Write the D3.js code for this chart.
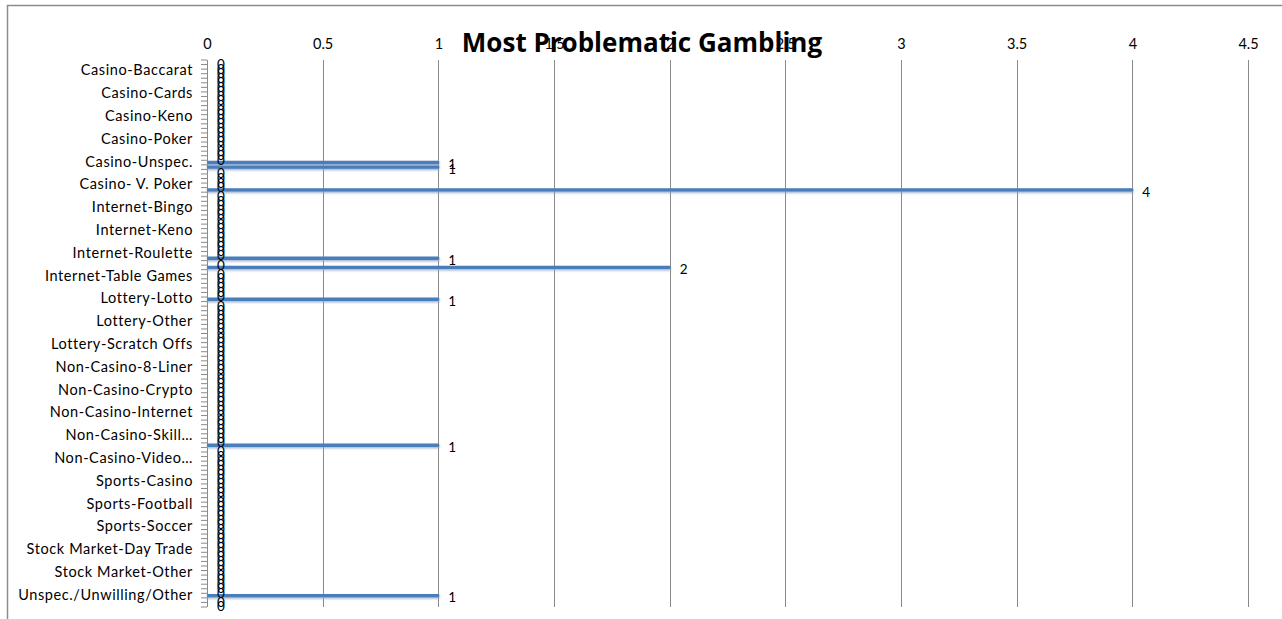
<!DOCTYPE html>
<html>
<head>
<meta charset="utf-8">
<script src="https://cdn.jsdelivr.net/npm/d3@7"></script>
<style>
  body { margin: 0; background: #fff; }
  svg { display: block; font-family: Lato, "Liberation Sans", sans-serif; }
</style>
</head>
<body>
<div class="chart"></div>
<script>
// categories on the vertical axis, top to bottom
const categories = [
    'Casino-Baccarat', 'Casino-Cards', 'Casino-Keno', 'Casino-Poker', 'Casino-Unspec.',
    'Casino- V. Poker', 'Internet-Bingo', 'Internet-Keno', 'Internet-Roulette', 'Internet-Table Games',
    'Lottery-Lotto', 'Lottery-Other', 'Lottery-Scratch Offs', 'Non-Casino-8-Liner', 'Non-Casino-Crypto',
    'Non-Casino-Internet', 'Non-Casino-Skill…', 'Non-Casino-Video…', 'Sports-Casino', 'Sports-Football',
    'Sports-Soccer', 'Stock Market-Day Trade', 'Stock Market-Other', 'Unspec./Unwilling/Other'
]

const seriesNames = ['Series 1', 'Series 2', 'Series 3', 'Series 4', 'Series 5']

// one array per series, one value per category
const series1 = [0,0,0,0,0, 0,0,0,0,2, 0,0,0,0,0, 0,0,0,0,0, 0,0,0,0]
const series2 = [0,0,0,0,0, 0,0,0,0,0, 0,0,0,0,0, 0,0,0,0,0, 0,0,0,0]
const series3 = [0,0,0,0,1, 0,0,0,0,0, 1,0,0,0,0, 0,0,0,0,0, 0,0,0,1]
const series4 = [0,0,0,0,1, 4,0,0,1,0, 0,0,0,0,0, 0,0,0,0,0, 0,0,0,0]
const series5 = [0,0,0,0,0, 0,0,0,0,0, 0,0,0,0,0, 0,1,0,0,0, 0,0,0,0]

const xTicks = [0, 0.5, 1, 1.5, 2, 2.5, 3, 3.5, 4, 4.5]

const allSeries = [series1, series2, series3, series4, series5]

const rows = []
categories.forEach((c, i) => {
    allSeries.forEach((s, j) => {
        rows.push({ category: c, series: seriesNames[j], value: s[i] })
    })
})

const W = 1282, H = 619
const margin = { top: 60, left: 207, right: 34, bottom: 12 }

const svg = d3.select('.chart')
    .append('svg')
    .attr('width', W)
    .attr('height', H)

const defs = svg.append('defs')
defs.append('filter')
    .attr('id', 'shadow')
    .attr('x', '-5%').attr('y', '-200%')
    .attr('width', '110%').attr('height', '500%')
    .append('feGaussianBlur')
    .attr('stdDeviation', 1.3)

// chart border
svg.append('rect')
    .attr('x', 7.5).attr('y', 5.5)
    .attr('width', W).attr('height', H)
    .attr('fill', 'none')
    .attr('stroke', '#8c8c8c')
    .attr('stroke-width', 1.5)

const x = d3.scaleLinear()
    .domain([0, 4.5])
    .range([margin.left, W - margin.right])

const y = d3.scaleBand()
    .domain(categories)
    .range([margin.top, H - margin.bottom])

const ys = d3.scaleBand()
    .domain(seriesNames)
    .range([0, y.bandwidth()])

// title (tick labels are drawn over it, as in the original)
svg.append('text')
    .attr('x', 642)
    .attr('y', 52)
    .attr('text-anchor', 'middle')
    .attr('font-family', '"Open Sans", Lato, sans-serif')
    .attr('font-size', 26)
    .attr('font-weight', 'bold')
    .attr('fill', '#000')
    .text('Most Problematic Gambling')

// vertical gridlines
svg.append('g')
    .selectAll('line')
    .data(xTicks)
    .enter()
    .append('line')
    .attr('x1', d => Math.round(x(d)) + 0.5)
    .attr('x2', d => Math.round(x(d)) + 0.5)
    .attr('y1', margin.top)
    .attr('y2', H - margin.bottom)
    .attr('stroke', '#8a8a8a')
    .attr('stroke-width', 1)

// value axis on top
const xAxis = svg.append('g')
    .attr('transform', `translate(0,${margin.top})`)
    .call(d3.axisTop(x).tickValues(xTicks).tickSize(0).tickPadding(11).tickFormat(d3.format('')))
xAxis.select('.domain').remove()
xAxis.selectAll('text')
    .attr('font-family', 'Lato, sans-serif')
    .attr('font-size', 14.5)
    .attr('fill', '#000')

// category axis with a tick between every series slot
const tickPos = rows.map(r => y(r.category) + ys(r.series))
tickPos.push(H - margin.bottom)
svg.append('g')
    .selectAll('line')
    .data(tickPos)
    .enter()
    .append('line')
    .attr('x1', margin.left - 6)
    .attr('x2', margin.left)
    .attr('y1', d => d)
    .attr('y2', d => d)
    .attr('stroke', '#8a8a8a')
    .attr('stroke-width', 1)

svg.append('line')
    .attr('x1', margin.left + 0.5).attr('x2', margin.left + 0.5)
    .attr('y1', margin.top).attr('y2', H - margin.bottom)
    .attr('stroke', '#8a8a8a')

svg.append('g')
    .selectAll('text')
    .data(categories)
    .enter()
    .append('text')
    .attr('x', margin.left - 14)
    .attr('y', d => y(d) + y.bandwidth() / 2 - 1)
    .attr('dy', '0.35em')
    .attr('text-anchor', 'end')
    .attr('font-size', 14.5)
    .attr('letter-spacing', 0.6)
    .attr('fill', '#000')
    .text(d => d)

// bars
const barH = 3.4
const bars = svg.append('g')
    .selectAll('g')
    .data(rows.filter(r => r.value > 0))
    .enter()
    .append('g')

bars.append('rect')
    .attr('x', margin.left)
    .attr('y', d => y(d.category) + ys(d.series) + ys.bandwidth() / 2 - barH / 2 + 1.4)
    .attr('width', d => x(d.value) - x(0) + 1)
    .attr('height', barH)
    .attr('fill', '#8ea6c8')
    .attr('opacity', 0.85)
    .attr('filter', 'url(#shadow)')

bars.append('rect')
    .attr('x', margin.left)
    .attr('y', d => y(d.category) + ys(d.series) + ys.bandwidth() / 2 - barH / 2)
    .attr('width', d => x(d.value) - x(0) + 1)
    .attr('height', barH)
    .attr('rx', 1.4)
    .attr('fill', '#4a7ebb')

// data labels
svg.append('g')
    .selectAll('text')
    .data(rows)
    .enter()
    .append('text')
    .attr('x', d => x(d.value) + 10)
    .attr('y', d => y(d.category) + ys(d.series) + ys.bandwidth() / 2 + 2)
    .attr('dy', '0.35em')
    .attr('font-size', 13.5)
    .attr('fill', '#000')
    .text(d => d.value)
</script>
</body>
</html>
